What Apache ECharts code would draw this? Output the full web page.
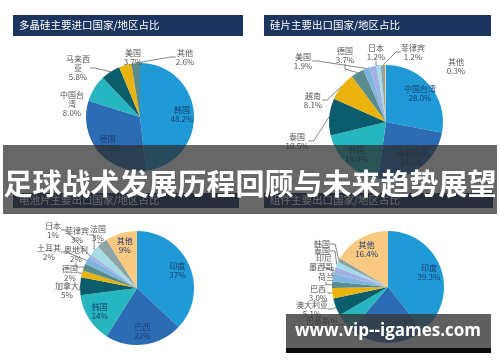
<!DOCTYPE html>
<html><head><meta charset="utf-8">
<script src="https://cdn.jsdelivr.net/npm/echarts@6/dist/echarts.min.js"></script>
<style>html,body{margin:0;padding:0;background:#fff}#c{width:500px;height:362px}</style>
</head><body><div id="c"></div>
<script>
// ---- data ----
const titles = ['多晶硅主要进口国家/地区占比', '硅片主要出口国家/地区占比', '电池片主要出口国家/地区占比', '组件主要出口国家/地区占比'];
const bannerText = '足球战术发展历程回顾与未来趋势展望';
const watermarkText = 'www.vip--igames.com';

const pie1Names = ['韩国', '德国', '中国台\n湾', '马来西\n亚', '美国', '其他'];
const pie1Values = [48.2, 31.7, 8.0, 5.8, 3.7, 2.6];

const pie2Names = ['中国台湾', '马来西亚', '韩国', '泰国', '越南', '德国', '美国', '新加坡', '日本', '菲律宾', '其他'];
const pie2Values = [28.0, 24.2, 19.0, 10.5, 8.1, 3.7, 1.9, 1.9, 1.2, 1.2, 0.3];

const pie3Names = ['印度', '巴西', '韩国', '加拿大', '德国', '奥地利', '土耳其', '日本', '菲律宾', '法国', '其他'];
const pie3Values = [37, 22, 14, 5, 2, 2, 2, 1, 3, 3, 9];

const pie4Names = ['印度', '日本', '巴基斯坦', '澳大利亚', '巴西', '荷兰', '墨西哥', '印尼', '泰国', '韩国', '其他'];
const pie4Values = [39.3, 22.0, 5.3, 5.1, 3.0, 1.9, 2.2, 2.0, 1.6, 1.2, 16.4];

// ---- style ----
const palette = ['#1f9ad6', '#2b6cb4', '#26b6c0', '#0c5d6c', '#eab30e', '#5a8c8c', '#7fb4de', '#a3b0e3', '#a5dbe6', '#8ea3a3', '#f9c982'];
const FONT = '"Noto Sans CJK SC", "Noto Sans", sans-serif';

// label placement (style): index -> [x, y] text centre; nameOnly / noLine / hidden lists
const pies = [
  { names: pie1Names, values: pie1Values, center: [140, 117], r: 54, inside: [0, 1], dec: 1,
    pos: { 2: [72, 104], 3: [78, 68], 4: [133, 57], 5: [185, 57] }, noLine: [2], hidden: [], nameOnly: [] },
  { names: pie2Names, values: pie2Values, center: [386, 122], r: 57, inside: [0, 1, 2], dec: 1,
    pos: { 3: [297, 141], 4: [313, 100], 5: [345, 55], 6: [303, 61], 8: [376, 52], 9: [413, 52], 10: [456, 66] },
    noLine: [10], hidden: [7], nameOnly: [] },
  { names: pie3Names, values: pie3Values, center: [137, 288], r: 57, inside: [0, 1, 2, 10], dec: 0,
    pos: { 3: [67, 290], 4: [70, 273], 5: [76, 254], 6: [49, 252], 7: [53, 230], 8: [77, 235], 9: [98, 233] },
    noLine: [], hidden: [], nameOnly: [] },
  { names: pie4Names, values: pie4Values, center: [388, 287], r: 56, inside: [0, 1, 10], dec: 1,
    pos: { 2: [322, 325], 3: [312, 309], 4: [318, 293], 5: [326, 277], 6: [321, 267], 7: [324, 258], 8: [322, 251], 9: [322, 244] },
    noLine: [], hidden: [], nameOnly: [5, 6, 7, 8, 9] }
];

const chart = echarts.init(document.getElementById('c'), null, { renderer: 'canvas' });

const series = pies.map((p) => ({
  type: 'pie',
  center: p.center,
  radius: [0, p.r],
  startAngle: 90,
  clockwise: true,
  animation: false,
  silent: true,
  avoidLabelOverlap: false,
  minShowLabelAngle: 0,
  itemStyle: { borderWidth: 0 },
  label: {
    show: true,
    position: 'outside',
    fontSize: 8,
    lineHeight: 9,
    color: '#555',
    fontFamily: FONT,
    align: 'center',
    formatter: (d) => (p.nameOnly.indexOf(d.dataIndex) >= 0 ? d.name : d.name + '\n' + d.value.toFixed(p.dec) + '%')
  },
  labelLine: { show: true, length: 4, length2: 5, lineStyle: { color: '#666', width: 0.8 } },
  labelLayout: function (prm) {
    const i = prm.dataIndex;
    if (p.inside.indexOf(i) >= 0) {
      const lr = prm.labelRect;
      const lx = lr.x + lr.width / 2, ly = lr.y + lr.height / 2;
      return { dx: 0.4 * (lx - p.center[0]), dy: 0.4 * (ly - p.center[1]) };
    }
    if (p.pos[i]) {
      return { x: p.pos[i][0], y: p.pos[i][1], align: 'center', verticalAlign: 'middle' };
    }
    return {};
  },
  data: p.names.map((n, i) => {
    const item = { name: n, value: p.values[i], itemStyle: { color: palette[i] } };
    if (p.inside.indexOf(i) >= 0) {
      item.label = { position: 'inside', color: '#1d3c6e', fontSize: 8, lineHeight: 9 };
      item.labelLine = { show: false };
    }
    if (p.noLine.indexOf(i) >= 0) item.labelLine = { show: false };
    if (p.hidden.indexOf(i) >= 0) { item.label = { show: false }; item.labelLine = { show: false }; }
    return item;
  })
}));

const titleBoxes = [
  { x: 13, y: 15, w: 230, h: 21, z: 10 },
  { x: 264, y: 15, w: 227, h: 21, z: 10 },
  { x: 13, y: 193, w: 226, h: 15, z: 50 },
  { x: 264, y: 193, w: 229, h: 15, z: 50 }
];

const graphics = [];
titleBoxes.forEach((b, i) => {
  graphics.push({ type: 'rect', z: b.z, shape: { x: b.x, y: b.y, width: b.w, height: b.h }, style: { fill: '#1b355f' } });
  graphics.push({ type: 'text', z: b.z + 1, x: b.x + 6, y: b.y + b.h / 2, style: { text: titles[i], fill: '#fff', font: '10.5px ' + FONT, textVerticalAlign: 'middle' } });
});
// banner
graphics.push({ type: 'rect', z: 100, shape: { x: 3, y: 145, width: 494, height: 69 }, style: { fill: 'rgba(45,45,45,0.72)' } });
graphics.push({ type: 'text', z: 101, x: 250, y: 184, style: { text: bannerText, fill: '#fff', font: 'bold 29px ' + FONT, textAlign: 'center', textVerticalAlign: 'middle' } });
// watermark
graphics.push({ type: 'rect', z: 100, shape: { x: 286, y: 314, width: 205, height: 34 }, style: { fill: 'rgba(55,55,55,0.8)' } });
graphics.push({ type: 'rect', z: 100, shape: { x: 286, y: 348, width: 205, height: 5 }, style: { fill: '#0a0a0a' } });
graphics.push({ type: 'text', z: 101, x: 388, y: 331, style: { text: watermarkText, fill: '#fff', font: 'bold 17px "Open Sans", sans-serif', textAlign: 'center', textVerticalAlign: 'middle' } });

chart.setOption({
  animation: false,
  backgroundColor: '#fff',
  series: series,
  graphic: { elements: graphics }
});
</script>
</body></html>
